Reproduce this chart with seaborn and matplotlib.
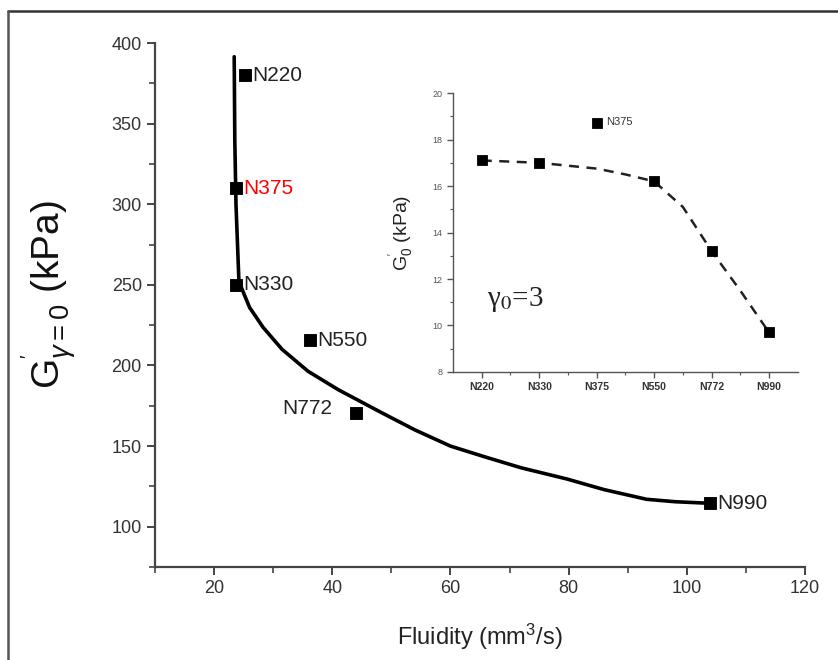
import matplotlib
matplotlib.use("Agg")
import matplotlib.pyplot as plt
from matplotlib.lines import Line2D
from matplotlib.ticker import MultipleLocator, FixedLocator
import seaborn as sns
import pandas as pd

# main plot: G' at gamma=0 vs fluidity
grades = ['N220', 'N375', 'N330', 'N550', 'N772', 'N990']
fluidity = [25.2, 23.7, 23.7, 36.2, 44.0, 103.9]
g_prime = [380, 310, 250, 215.5, 170.5, 114.5]
label_colors = ['black', 'red', 'black', 'black', 'black', 'black']

# hand-drawn trend curve
curve_x = [23.4, 23.5, 23.7, 24.2, 26.0, 28.3, 31.5, 35.9, 41.0, 48.2, 54.0,
           60.0, 66.1, 72.0, 79.7, 86.0, 93.2, 98.0, 104.0]
curve_y = [391.5, 340, 300, 252, 236, 223.6, 210, 196.4, 185, 171, 160,
           150, 143, 136.5, 129.6, 123, 117, 115.5, 114.5]

# inset: G'_0 at gamma_0=3 per grade
inset_grades = ['N220', 'N330', 'N375', 'N550', 'N772', 'N990']
inset_g0 = [17.1, 17.0, 18.7, 16.2, 13.2, 9.7]
inset_fit_x = [0, 1, 2, 2.5, 3, 3.5, 4, 4.5, 5]
inset_fit_y = [17.1, 17.0, 16.75, 16.5, 16.2, 15.1, 13.2, 11.5, 9.7]

sns.set_style("ticks")
plt.rcParams['font.family'] = ['Liberation Sans', 'DejaVu Sans']
plt.rcParams['mathtext.fontset'] = 'custom'
plt.rcParams['mathtext.rm'] = 'Liberation Sans'
plt.rcParams['mathtext.it'] = 'Liberation Sans:italic'
plt.rcParams['mathtext.sf'] = 'Liberation Sans'

spine_col = '#444444'
tick_col = '#333333'

fig = plt.figure(figsize=(8.38, 6.6), dpi=100)
ax = fig.add_axes([0.185, 0.1409, 0.7756, 0.7939])

sns.lineplot(x=curve_x, y=curve_y, sort=False, color='black', lw=2.6, ax=ax)
df = pd.DataFrame({'grade': grades, 'fluidity': fluidity, 'g': g_prime})
sns.scatterplot(data=df, x='fluidity', y='g', marker='s', s=65, color='black',
                edgecolor='black', zorder=5, ax=ax)

for gname, xv, yv, c in zip(grades, fluidity, g_prime, label_colors):
    if gname == 'N772':
        ax.annotate(gname, (xv, yv), xytext=(-17, 3), textcoords='offset points',
                    ha='right', va='center', fontsize=15, color='#222222')
    else:
        ax.annotate(gname, (xv, yv), xytext=(5, 0), textcoords='offset points',
                    ha='left', va='center', fontsize=15, color=c if c == 'red' else '#222222')

ax.set_xlim(10, 120)
ax.set_ylim(75, 400)
ax.set_xticks([20, 40, 60, 80, 100, 120])
ax.xaxis.set_minor_locator(MultipleLocator(10))
ax.yaxis.set_major_locator(FixedLocator([100, 150, 200, 250, 300, 350, 400]))
ax.yaxis.set_minor_locator(MultipleLocator(25))
sns.despine(ax=ax)
for s in ['left', 'bottom']:
    ax.spines[s].set_color(spine_col)
    ax.spines[s].set_linewidth(1.6)
ax.tick_params(which='major', length=6, width=1.4, colors=spine_col, labelsize=13,
               labelcolor=tick_col)
ax.tick_params(which='minor', length=4, width=1.2, colors=spine_col)
ax.set_xlabel('Fluidity (mm$^3$/s)', fontsize=17, color='#222222', labelpad=18)
ax.set_ylabel(r"G$^{'}_{\gamma=0}$ (kPa)", fontsize=28, color='#111111')
ax.yaxis.set_label_coords(-0.117, 0.52)

# inset
axi = fig.add_axes([0.5406, 0.4364, 0.4114, 0.4226])
pos = list(range(len(inset_grades)))
sns.lineplot(x=inset_fit_x, y=inset_fit_y, color='#222222', lw=1.8, ax=axi,
             linestyle=(0, (4, 3)))
sns.scatterplot(x=pos, y=inset_g0, marker='s', s=55, color='black',
                edgecolor='black', zorder=5, ax=axi)
axi.annotate('N375', (pos[2], inset_g0[2]), xytext=(7, 1), textcoords='offset points',
             ha='left', va='center', fontsize=8, color='#333333')
axi.text(0.1, 11.1, 'γ$_0$=3', fontsize=21, family='Liberation Serif',
         math_fontfamily='stix', color='#222222', va='center')
axi.set_xlim(-0.5, 5.5)
axi.set_ylim(8, 20)
axi.set_xticks(pos)
axi.set_xticklabels(inset_grades, fontweight='bold')
axi.xaxis.set_minor_locator(FixedLocator([p + 0.5 for p in pos[:-1]]))
axi.yaxis.set_major_locator(MultipleLocator(2))
axi.yaxis.set_minor_locator(MultipleLocator(1))
sns.despine(ax=axi)
for s in ['left', 'bottom']:
    axi.spines[s].set_color('#555555')
    axi.spines[s].set_linewidth(1.0)
axi.tick_params(axis='x', which='major', length=4, width=1.0, colors='#555555',
                labelsize=7.5, labelcolor='#333333')
axi.tick_params(axis='y', which='major', length=4, width=1.0, colors='#555555',
                labelsize=6.5, labelcolor='#555555')
axi.tick_params(which='minor', length=2.5, width=0.8, colors='#555555')
axi.set_ylabel(r"G$^{'}_{0}$ (kPa)", fontsize=14, color='#222222', labelpad=11)
axi.set_xlabel('')

# frame around the figure (top and left edges only visible)
fig.add_artist(Line2D([0.0095, 1.0], [0.983, 0.983], transform=fig.transFigure,
                      color='#333333', lw=1.8))
fig.add_artist(Line2D([0.0095, 0.0095], [0.0, 0.983], transform=fig.transFigure,
                      color='#555555', lw=1.8))

fig.savefig('out.png', dpi=100)
